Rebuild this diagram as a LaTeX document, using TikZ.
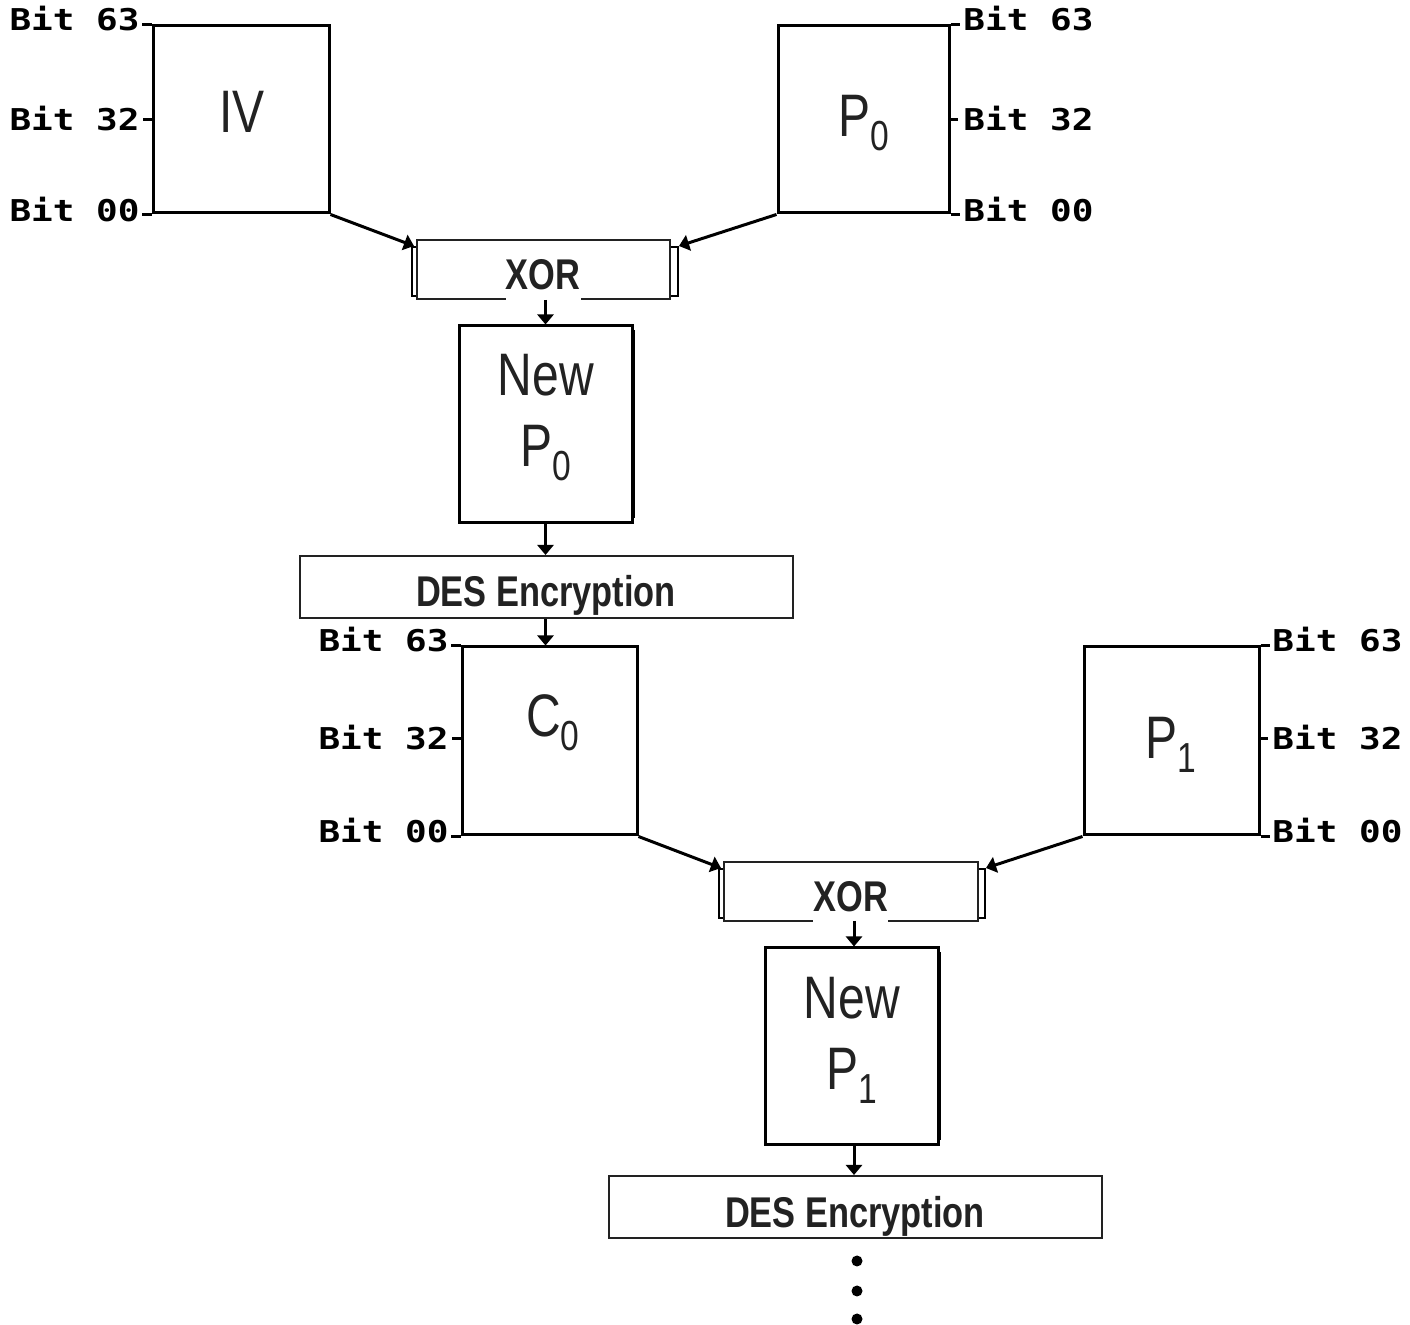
\documentclass[tikz,border=0pt]{standalone}
\usepackage{fontspec}
\usetikzlibrary{arrows.meta,fit}
\newfontfamily\condfont{Liberation Sans}[FakeStretch=0.8]
\newfontfamily\bitfont{DejaVu Sans Mono}[FakeStretch=1.2]
\definecolor{ink}{HTML}{222222}
\newcommand\sbs[1]{\raisebox{-7pt}{\fontsize{21}{21}\selectfont #1}}
\begin{document}
\begin{tikzpicture}[x=0.5pt,y=-0.5pt,
 blk/.style={draw, line width=1.5pt, inner sep=0pt},
 thinblk/.style={draw=ink, line width=1pt, fill=white, inner sep=0pt},
 bracket/.style={draw, line width=1.3pt},
 big/.style={font=\condfont\fontsize{30}{35.5}\selectfont, text=ink, anchor=base, inner sep=0pt, align=center},
 boldtxt/.style={font=\condfont\bfseries\fontsize{21.5}{21.5}\selectfont, text=ink, anchor=base, inner sep=0pt},
 bitl/.style={font=\bitfont\bfseries\fontsize{15}{15}\selectfont, inner sep=0pt, anchor=base east},
 bitr/.style={font=\bitfont\bfseries\fontsize{15}{15}\selectfont, inner sep=0pt, anchor=base west},
 arr/.style={line width=1.5pt, -{Triangle[width=8pt,length=5pt]}},
 tickl/.style={line width=1.5pt}]
\useasboundingbox (0,0) rectangle (1410,1325);

% ---------- first stage ----------
\node[blk, fit={(153,26)(329,213)}] (iv) {};
\node[big] (ivt) at (242,133) {IV};
\node[blk, fit={(778,26)(949,213)}] (p0) {};
\node[big] (p0t) at (864,137) {P\sbs{0}};

% bit labels IV
\coordinate (ivm) at (153,120);
\draw[tickl] (iv.north west) -- ++(-10,0) coordinate (ivt63);
\draw[tickl] (ivm) -- ++(-10,0) coordinate (ivt32);
\draw[tickl] (iv.south west) -- ++(-10,0) coordinate (ivt00);
\node[bitl] (ivb63) at (140,31) {Bit 63};
\node[bitl] (ivb32) at (140,131) {Bit 32};
\node[bitl] (ivb00) at (140,222) {Bit 00};
% bit labels P0
\coordinate (p0m) at (949,120);
\draw[tickl] (p0.north east) -- ++(9,0);
\draw[tickl] (p0m) -- ++(9,0);
\draw[tickl] (p0.south east) -- ++(9,0);
\node[bitr] (p0b63) at (963,31) {Bit 63};
\node[bitr] (p0b32) at (963,131) {Bit 32};
\node[bitr] (p0b00) at (963,222) {Bit 00};

% XOR 1
\draw[bracket] (412,247) rectangle (678,296);
\node[thinblk, fit={(417,240)(670,299)}] (xor1) {};
\fill[white] (506,289) rectangle (581,302);
\node[boldtxt] (xor1t) at (543,290) {XOR};
\coordinate (xor1l) at (414,246);
\coordinate (xor1r) at (679,246);
\draw[arr] (iv.south east) -- (xor1l);
\draw[arr] (p0.south west) -- (xor1r);

% New P0
\node[blk, fit={(459,326)(632,523)}] (np0) {};
\draw[line width=1pt] (634,330) -- (634,518);
\node[big] (np0t) at (546,467) {New\\P\sbs{0}};
\draw[arr] (np0.north |- xor1.south) -- (np0.north);

% DES 1
\node[thinblk, fit={(300,556)(793,618)}] (des1) {};
\node[boldtxt] (des1t) at (546,607) {DES Encryption};
\draw[arr] (np0.south) -- (np0.south |- des1.north);

% ---------- second stage ----------
\node[blk, fit={(462,647)(637,835)}] (c0) {};
\node[big] (c0t) at (553,737) {C\sbs{0}};
\draw[arr] (des1.south -| np0.south) -- (np0.south |- c0.north);

\node[blk, fit={(1084,647)(1259,835)}] (p1) {};
\node[big] (p1t) at (1171,759) {P\sbs{1}};

% bit labels C0
\coordinate (c0m) at (462,739);
\draw[tickl] (c0.north west) -- ++(-10,0);
\draw[tickl] (c0m) -- ++(-10,0);
\draw[tickl] (c0.south west) -- ++(-10,0);
\node[bitl] (c0b63) at (449,652) {Bit 63};
\node[bitl] (c0b32) at (449,750) {Bit 32};
\node[bitl] (c0b00) at (449,843) {Bit 00};
% bit labels P1
\coordinate (p1m) at (1259,739);
\draw[tickl] (p1.north east) -- ++(9,0);
\draw[tickl] (p1m) -- ++(9,0);
\draw[tickl] (p1.south east) -- ++(9,0);
\node[bitr] (p1b63) at (1272,652) {Bit 63};
\node[bitr] (p1b32) at (1272,750) {Bit 32};
\node[bitr] (p1b00) at (1272,843) {Bit 00};

% XOR 2
\draw[bracket] (719,869) rectangle (985,918);
\node[thinblk, fit={(724,862)(978,921)}] (xor2) {};
\fill[white] (813,911) rectangle (888,924);
\node[boldtxt] (xor2t) at (851,912) {XOR};
\coordinate (xor2l) at (721,868);
\coordinate (xor2r) at (986,868);
\draw[arr] (c0.south east) -- (xor2l);
\draw[arr] (p1.south west) -- (xor2r);

% New P1
\node[blk, fit={(765,948)(938,1145)}] (np1) {};
\draw[line width=1pt] (940,952) -- (940,1140);
\node[big] (np1t) at (852,1090) {New\\P\sbs{1}};
\coordinate (a2) at (854,921);
\draw[arr] (a2) -- (a2 |- np1.north);

% DES 2
\node[thinblk, fit={(609,1176)(1102,1238)}] (des2) {};
\node[boldtxt] (des2t) at (855,1228) {DES Encryption};
\coordinate (a3) at (854,1145);
\draw[arr] (a3) -- (a3 |- des2.north);

% continuation dots
\fill (857,1261) circle (5.5);
\fill (857,1291) circle (5.5);
\fill (857,1319) circle (5.5);
\end{tikzpicture}
\end{document}
